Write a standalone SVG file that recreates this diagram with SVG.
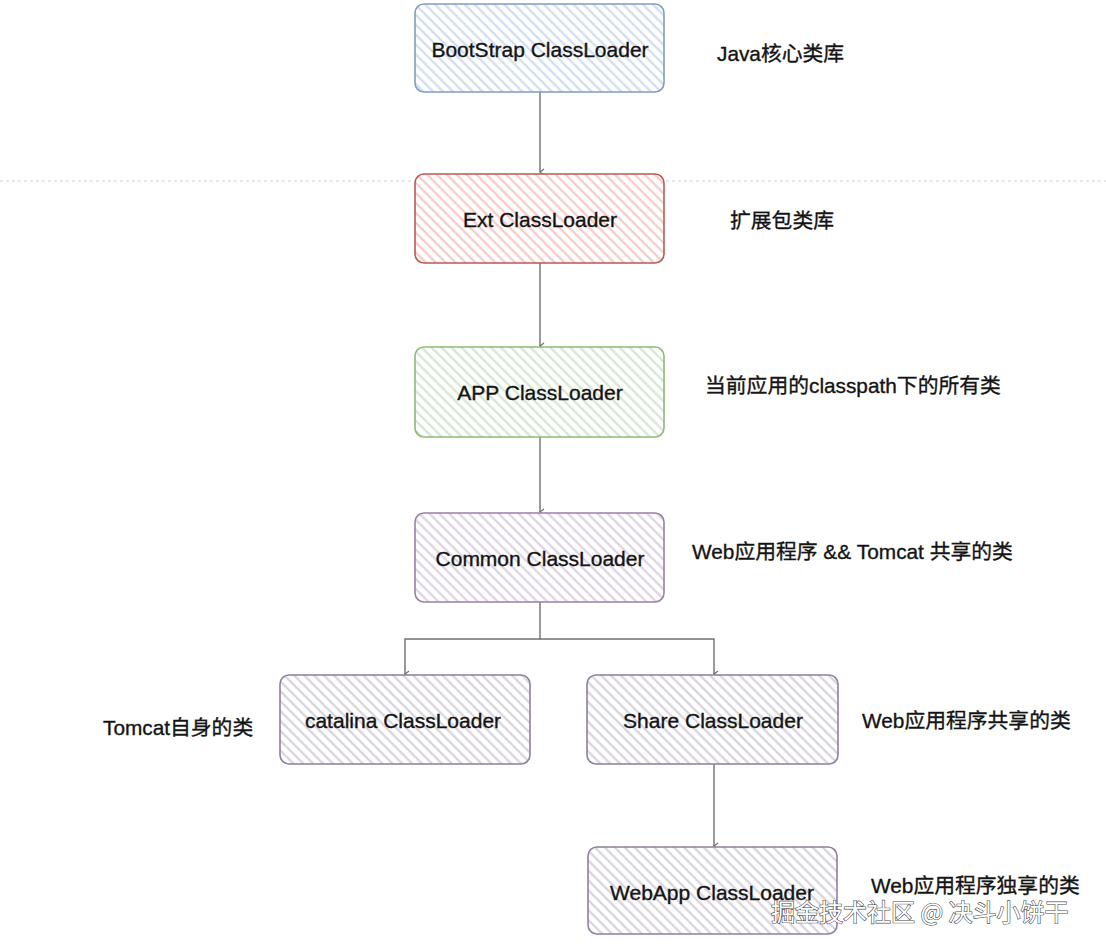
<svg xmlns="http://www.w3.org/2000/svg" width="1106" height="949" viewBox="0 0 1106 949">
<style>
.box{stroke-width:1.6}
.lbl{font-family:"Liberation Sans","Noto Sans CJK SC",Arial,sans-serif;font-size:21px;fill:#141414;stroke:#141414;stroke-width:0.35;text-anchor:middle;dominant-baseline:central}
.note{font-family:"Liberation Sans","Noto Sans CJK SC",sans-serif;font-size:20.8px;fill:#141414;stroke:#141414;stroke-width:0.35;dominant-baseline:central}
.conn{fill:none;stroke:#707070;stroke-width:1.4}
.wm{font-family:"Noto Sans CJK SC",sans-serif;font-size:24px;fill:#ffffff;stroke:#4a4a4a;stroke-width:1.2;paint-order:stroke;dominant-baseline:central}
</style>
<defs>
<pattern id="hBlue" width="7" height="7" patternUnits="userSpaceOnUse" patternTransform="rotate(45)"><rect width="7" height="7" fill="#fff"/><line x1="0" y1="3.5" x2="7" y2="3.5" stroke="#c9d9ee" stroke-width="2"/></pattern>
<pattern id="hRed" width="7" height="7" patternUnits="userSpaceOnUse" patternTransform="rotate(45)"><rect width="7" height="7" fill="#fff"/><line x1="0" y1="3.5" x2="7" y2="3.5" stroke="#f3c4c2" stroke-width="2"/></pattern>
<pattern id="hGreen" width="7" height="7" patternUnits="userSpaceOnUse" patternTransform="rotate(45)"><rect width="7" height="7" fill="#fff"/><line x1="0" y1="3.5" x2="7" y2="3.5" stroke="#cfe3cc" stroke-width="2"/></pattern>
<pattern id="hPurple" width="7" height="7" patternUnits="userSpaceOnUse" patternTransform="rotate(45)"><rect width="7" height="7" fill="#fff"/><line x1="0" y1="3.5" x2="7" y2="3.5" stroke="#d9cde0" stroke-width="2"/></pattern>
<pattern id="hGray" width="7" height="7" patternUnits="userSpaceOnUse" patternTransform="rotate(45)"><rect width="7" height="7" fill="#fff"/><line x1="0" y1="3.5" x2="7" y2="3.5" stroke="#d2cdd7" stroke-width="2"/></pattern>
<marker id="arr" markerWidth="8" markerHeight="8" refX="4" refY="6" orient="auto-start-reverse" markerUnits="userSpaceOnUse" viewBox="0 0 8 8"><path d="M1,2 L4,6 L7,2" fill="none" stroke="#707070" stroke-width="1.2"/></marker>
</defs>
<rect width="1106" height="949" fill="#ffffff"/>
<line x1="0" y1="181" x2="1106" y2="181" stroke="#d0d0d0" stroke-width="1" stroke-dasharray="3 3"/>
<g id="connectors">
<path class="conn" d="M540,92 V172" marker-end="url(#arr)"/>
<path class="conn" d="M540,263 V346" marker-end="url(#arr)"/>
<path class="conn" d="M540,437 V512" marker-end="url(#arr)"/>
<path class="conn" d="M540,602 V639 H405 V674" marker-end="url(#arr)"/>
<path class="conn" d="M540,639 H714 V674" marker-end="url(#arr)"/>
<path class="conn" d="M714,764 V846" marker-end="url(#arr)"/>
</g>
<g id="bootstrap">
<rect class="box" x="415" y="4" width="249" height="88" rx="9" fill="url(#hBlue)" stroke="#7d9cc8"/>
<text class="lbl" x="540" y="49">BootStrap ClassLoader</text>
</g>
<g id="ext">
<rect class="box" x="415" y="174" width="249" height="89" rx="9" fill="url(#hRed)" stroke="#b85a55"/>
<text class="lbl" x="540" y="219">Ext ClassLoader</text>
</g>
<g id="app">
<rect class="box" x="415" y="347" width="249" height="90" rx="9" fill="url(#hGreen)" stroke="#8dbb74"/>
<text class="lbl" x="540" y="392">APP ClassLoader</text>
</g>
<g id="common">
<rect class="box" x="415" y="513" width="249" height="89" rx="9" fill="url(#hPurple)" stroke="#9a80a8"/>
<text class="lbl" x="540" y="558">Common ClassLoader</text>
</g>
<g id="catalina">
<rect class="box" x="280" y="675" width="250" height="89" rx="9" fill="url(#hGray)" stroke="#8f7f9c"/>
<text class="lbl" x="403" y="720">catalina ClassLoader</text>
</g>
<g id="share">
<rect class="box" x="587" y="675" width="251" height="89" rx="9" fill="url(#hGray)" stroke="#8f7f9c"/>
<text class="lbl" x="713" y="720">Share ClassLoader</text>
</g>
<g id="webapp">
<rect class="box" x="588" y="847" width="249" height="87" rx="9" fill="url(#hGray)" stroke="#8f7f9c"/>
<text class="lbl" x="712" y="892">WebApp ClassLoader</text>
</g>
<g id="notes">
<text class="note" x="717" y="53">Java核心类库</text>
<text class="note" x="730" y="220">扩展包类库</text>
<text class="note" x="705" y="385">当前应用的classpath下的所有类</text>
<text class="note" x="692" y="551">Web应用程序 &amp;&amp; Tomcat 共享的类</text>
<text class="note" x="103" y="727">Tomcat自身的类</text>
<text class="note" x="862" y="720">Web应用程序共享的类</text>
<text class="note" x="871" y="885">Web应用程序独享的类</text>
</g>
<text class="wm" x="771" y="910">掘金技术社区 @ 决斗小饼干</text>
</svg>
